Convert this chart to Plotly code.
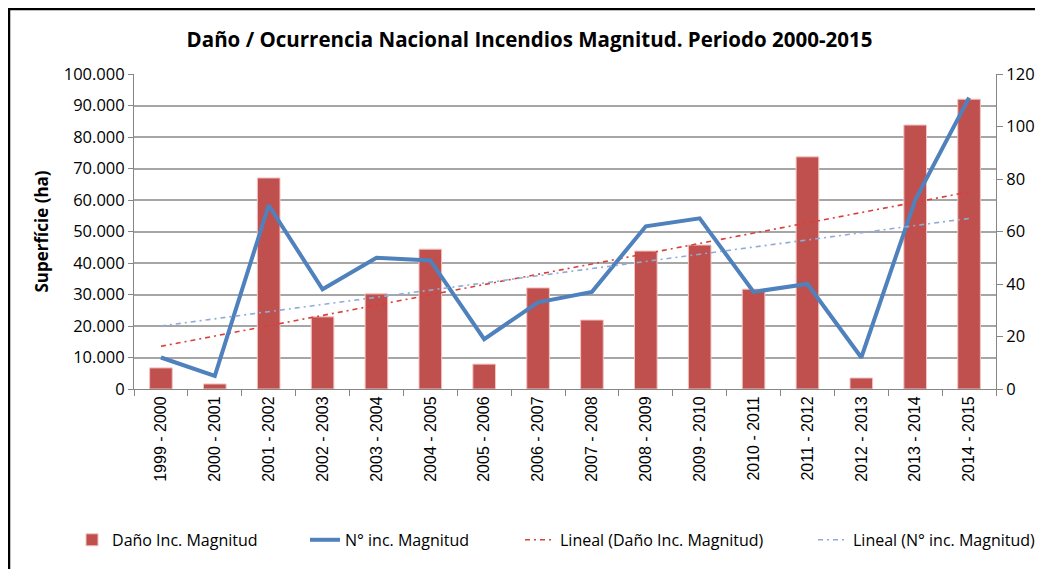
import numpy as np
import plotly.graph_objects as go

categories = ["1999 - 2000", "2000 - 2001", "2001 - 2002", "2002 - 2003", "2003 - 2004",
              "2004 - 2005", "2005 - 2006", "2006 - 2007", "2007 - 2008", "2008 - 2009",
              "2009 - 2010", "2010 - 2011", "2011 - 2012", "2012 - 2013", "2013 - 2014",
              "2014 - 2015"]
dano_ha = [6700, 1600, 67000, 22900, 30200, 44400, 7900, 32100, 21900, 43800,
           45700, 31700, 73700, 3500, 83800, 92000]
n_incendios = [12, 5, 70, 38, 50, 49, 19, 33, 37, 62, 65, 37, 40, 12, 72, 111]
left_ticks = [0, 10000, 20000, 30000, 40000, 50000, 60000, 70000, 80000, 90000, 100000]
left_tick_text = ["0", "10.000", "20.000", "30.000", "40.000", "50.000", "60.000",
                  "70.000", "80.000", "90.000", "100.000"]
right_ticks = [0, 20, 40, 60, 80, 100, 120]

xi = np.arange(len(categories))
a1, b1 = np.polyfit(xi, dano_ha, 1)
a2, b2 = np.polyfit(xi, n_incendios, 1)
trend1 = a1 * xi + b1
trend2 = a2 * xi + b2

FONT = "Open Sans, Noto Sans, Liberation Sans, Arial"
TREND_DASH = "5px,4px,2px,4px"

fig = go.Figure()
fig.add_trace(go.Bar(x=categories, y=dano_ha, name="Daño Inc. Magnitud",
                     marker=dict(color="#C0504D", line=dict(color="#F2C4C3", width=1)),
                     width=0.42, legendwidth=188))
fig.add_trace(go.Scatter(x=categories, y=n_incendios, name="N° inc. Magnitud", yaxis="y2",
                         mode="lines", line=dict(color="#4F81BD", width=4),
                         legendwidth=170))
fig.add_trace(go.Scatter(x=categories, y=trend1, name="Lineal (Daño Inc. Magnitud)",
                         mode="lines", line=dict(color="#D8403A", width=1.6, dash=TREND_DASH),
                         legendwidth=248))
fig.add_trace(go.Scatter(x=categories, y=trend2, name="Lineal (N° inc. Magnitud)", yaxis="y2",
                         mode="lines", line=dict(color="#8EACD8", width=1.6, dash=TREND_DASH),
                         legendwidth=184))

fig.update_layout(
    width=1043, height=569,
    margin=dict(l=126, r=55, t=66, b=188),
    paper_bgcolor="white", plot_bgcolor="white",
    title=dict(text="<b>Daño / Ocurrencia Nacional Incendios Magnitud. Periodo 2000-2015</b>",
               x=0.5, xref="container", xanchor="center", y=0.944, yanchor="middle",
               font=dict(family=FONT, size=20.5, color="black")),
    font=dict(family=FONT, size=15, color="black"),
    showlegend=True,
    legend=dict(orientation="h", xref="paper", x=-0.0719, xanchor="left",
                yref="paper", y=-0.479, yanchor="middle",
                font=dict(family=FONT, size=16, color="black"), traceorder="normal"),
    xaxis=dict(type="category", tickangle=-90, showline=True, linecolor="#868686",
               ticks="outside", tickson="boundaries", ticklen=6, tickcolor="#868686",
               tickfont=dict(family="Liberation Sans, Arial", size=16), showgrid=False),
    yaxis=dict(range=[0, 100000], tickvals=left_ticks, ticktext=left_tick_text,
               showline=True, linecolor="#868686", ticks="outside", ticklen=5,
               tickcolor="#868686", showgrid=True, gridcolor="#A6A6A6", gridwidth=1.5,
               zeroline=False,
               title=dict(text="<b>Superfície (ha)</b>", standoff=10,
                          font=dict(family=FONT, size=17)),
               tickfont=dict(size=16.5)),
    yaxis2=dict(range=[0, 120], tickvals=right_ticks, overlaying="y", side="right",
                showline=True, linecolor="#868686", ticks="outside", ticklen=6,
                tickcolor="#868686", showgrid=False, zeroline=False,
                tickfont=dict(size=16.5)),
    shapes=[dict(type="rect", xref="paper", yref="paper", x0=-0.1450, x1=1.2,
                 y0=-1.0, y1=1.2063, line=dict(color="black", width=2.5),
                 fillcolor="rgba(0,0,0,0)", layer="below")],
)

fig.write_html("out.html")
